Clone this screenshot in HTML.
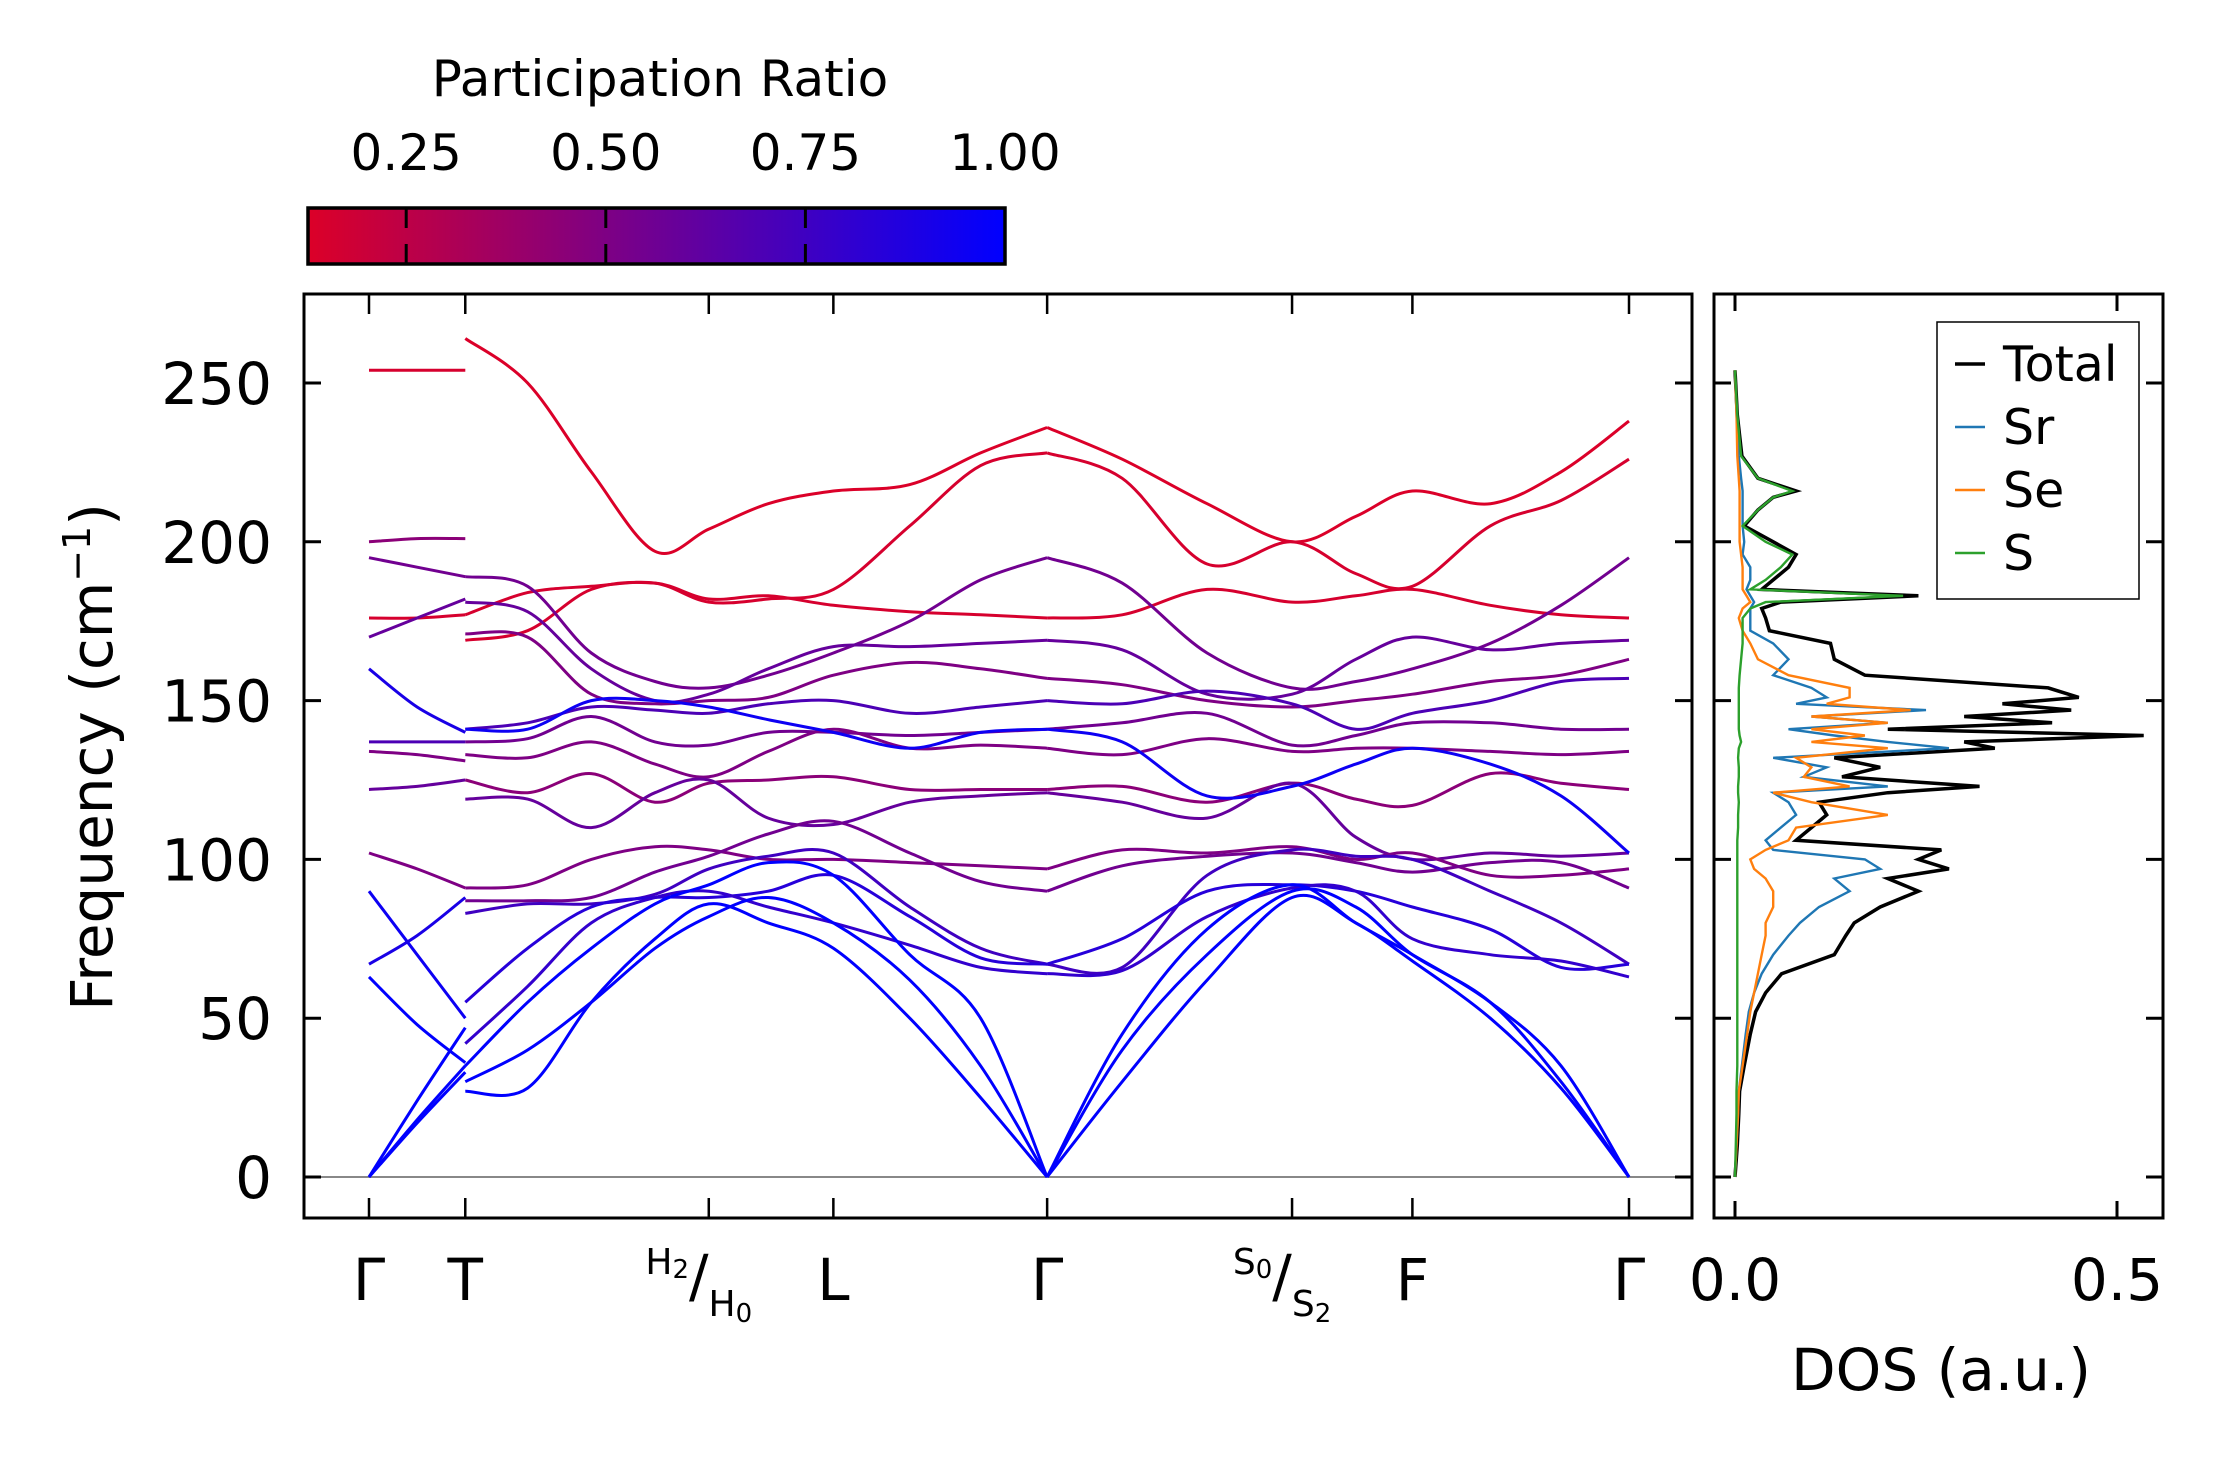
<!DOCTYPE html>
<html><head><meta charset="utf-8"><style>
html,body{margin:0;padding:0;background:#fff;}
svg text{font-family:"DejaVu Sans","Liberation Sans",sans-serif;fill:#000;}
</style></head><body>
<svg id="fig" width="2223" height="1455" viewBox="0 0 2223 1455" xmlns="http://www.w3.org/2000/svg">
<defs><linearGradient id="cbg" x1="0" x2="1" y1="0" y2="0"><stop offset="0" stop-color="rgb(220,0,40)"/><stop offset="1" stop-color="rgb(0,0,255)"/></linearGradient></defs>
<g id="colorbar">
<text x="660" y="96" font-size="50" text-anchor="middle">Participation Ratio</text>
<rect x="308" y="208" width="697" height="56" fill="url(#cbg)" stroke="#000" stroke-width="3.5"/>
</g>
<g id="main"></g>
<g id="dos"></g>
</svg>
<script>
// ---------- data ----------
const kPointNames = ["Γ","T","H2/H0","L","Γ","S0/S2","F","Γ"];
const kPointPos = [258,326,498,586,737,910,995,1148];
const yTicks = [0,50,100,150,200,250];
const cbTicks = [0.25,0.50,0.75,1.00];
const dosTicks = [0.0,0.5];
// segment Γ-T
const seg1K = [258,292,326];
const seg1Bands = [
 [254,254,254],[200,201,201],[195,192,189],[176,176,177],[170,176,182],[160,148,140],
 [137,137,137],[134,133,131],[122,123,125],[102,97,91],[90,70,50],[67,76,88],[63,48,36],
 [0,24,47],[0,17,33],[0,18,35]];
const seg1PR = [0.15,0.45,0.55,0.15,0.6,0.9,0.7,0.5,0.6,0.5,0.95,0.9,1,1,1,1];
// segment T ... Γ ... Γ
const pathK = [326,370,415,460,498,540,586,640,690,737,790,850,910,955,995,1050,1100,1148];
const bandA = [264,250,222,197,204,212,216,218,228,236,226,212,200,208,216,212,222,238];
const bandB = [177,184,186,187,181,182,185,205,224,228,220,193,200,190,186,205,213,226];
const bandC = [169,172,185,187,182,183,180,178,177,176,177,185,181,183,185,180,177,176];
const bandD = [189,186,165,156,154,158,165,175,188,195,187,165,154,156,160,168,180,195];
const bandE = [181,178,160,150,152,160,167,167,168,169,166,152,152,163,170,166,168,169];
const bandF = [171,170,152,149,150,151,158,162,160,157,155,150,148,150,152,156,158,163];
const bandG = [141,143,148,147,146,149,150,146,148,150,149,153,149,141,146,150,156,157];
const bandH = [137,138,145,137,136,140,140,139,140,141,143,146,136,139,143,143,141,141];
const bandI = [133,132,137,130,126,134,141,135,136,135,133,138,134,135,135,134,133,134];
const bandJ = [125,121,127,118,124,125,126,122,122,122,123,118,124,119,117,127,124,122];
const bandK = [119,119,110,121,125,113,111,118,120,121,118,113,124,107,100,102,101,102];
const bandL = [91,92,100,104,103,100,100,99,98,97,103,102,104,100,102,95,95,97];
const bandM = [87,87,88,96,101,108,112,102,93,90,98,101,102,99,96,99,99,91];
const bandN = [141,141,150,150,148,144,140,135,140,141,137,120,123,130,135,130,120,102];
const bandO = [83,86,86,89,97,101,102,85,72,67,66,95,103,101,100,90,80,67];
const bandP = [55,72,85,88,88,90,95,82,69,67,75,90,92,90,85,78,66,67];
const bandQ = [42,60,80,88,90,85,80,73,66,64,65,82,91,90,75,70,68,63];
const bandR = [35,55,72,86,92,99,95,70,50,0,45,78,92,80,70,55,35,0];
const bandS = [30,40,55,72,82,88,80,62,35,0,40,70,90,85,70,55,30,0];
const bandT = [27,28,55,75,86,80,72,50,25,0,30,62,88,80,68,50,28,0];
const pathBands = [bandA,bandB,bandC,bandD,bandE,bandF,bandG,bandH,bandI,bandJ,bandK,bandL,bandM,bandN,bandO,bandP,bandQ,bandR,bandS,bandT];
const pathPR = [0.13,0.15,0.15,0.55,0.6,0.5,0.7,0.55,0.5,0.45,0.6,0.5,0.55,0.95,0.75,0.85,0.8,1,1,1];
// DOS
const dosFreq = [0,10,20,27,35,45,52,58,64,70,76,80,85,90,94,97,100,103,106,110,114,118,121,123,126,129,132,135,137,139,141,143,145,147,149,151,154,158,163,168,172,176,179,181,183,185,188,192,196,200,205,210,214,216,220,227,240,254];
const dosTotal = [0,.003,.005,.006,.012,.02,.027,.04,.061,.13,.145,.156,.19,.24,.2,.28,.24,.27,.08,.1,.12,.11,.2,.32,.14,.19,.13,.34,.3,.535,.2,.415,.3,.44,.35,.45,.41,.17,.13,.125,.045,.04,.035,.06,.24,.035,.05,.07,.08,.05,.012,.03,.05,.08,.03,.009,.003,0];
const dosSr = [0,.002,.004,.005,.009,.014,.018,.025,.035,.05,.07,.085,.11,.15,.13,.19,.17,.05,.04,.06,.08,.07,.05,.2,.09,.12,.05,.28,.2,.13,.07,.2,.1,.25,.08,.12,.1,.05,.07,.05,.02,.02,.02,.025,.02,.015,.02,.02,.01,.012,.01,.01,.01,.01,.008,.005,.002,0];
const dosSe = [0,.002,.004,.005,.01,.016,.02,.025,.03,.035,.04,.04,.05,.05,.04,.025,.02,.04,.07,.08,.2,.1,.05,.15,.09,.1,.08,.2,.1,.17,.1,.2,.1,.23,.12,.15,.15,.07,.03,.02,.01,.005,.01,.02,.015,.01,.01,.01,.008,.006,.006,.006,.006,.006,.005,.003,.002,0];
const dosS = [0,.001,.002,.002,.003,.003,.003,.003,.003,.003,.003,.003,.003,.003,.003,.003,.003,.003,.003,.004,.004,.005,.004,.004,.005,.005,.004,.005,.008,.006,.005,.005,.005,.005,.005,.005,.005,.006,.008,.01,.01,.01,.02,.04,.22,.02,.04,.06,.075,.04,.01,.03,.05,.075,.03,.008,.003,0];
const dosNames = ["Total","Sr","Se","S"];
const dosColors = ["#000000","#1f77b4","#ff7f0e","#2ca02c"];

// ---------- axes ----------
const NS="http://www.w3.org/2000/svg";
const AX={l:304,r:1692,t:294,b:1218};
const DX={l:1714,r:2163};
function xk(d){return 369+(d-258)*(1629-369)/(1148-258);}
function yf(f){return 1177-f*3.176;}
function xd(v){return 1735+v*764;}
function xcb(v){return 308+(v-0.127)/(1-0.127)*697;}
function prColor(v){const t=Math.max(0,Math.min(1,(v-0.127)/(1-0.127)));return `rgb(${Math.round(220*(1-t))},0,${Math.round(40+215*t)})`;}
function mk(tag,attrs,parent){const e=document.createElementNS(NS,tag);for(const k in attrs)e.setAttribute(k,attrs[k]);parent.appendChild(e);return e;}
function smooth(pts){let d=`M${pts[0][0].toFixed(1)},${pts[0][1].toFixed(1)}`;
 for(let i=0;i<pts.length-1;i++){const p0=pts[Math.max(0,i-1)],p1=pts[i],p2=pts[i+1],p3=pts[Math.min(pts.length-1,i+2)];
  const c1=[p1[0]+(p2[0]-p0[0])/6,p1[1]+(p2[1]-p0[1])/6],c2=[p2[0]-(p3[0]-p1[0])/6,p2[1]-(p3[1]-p1[1])/6];
  d+=` C${c1[0].toFixed(1)},${c1[1].toFixed(1)} ${c2[0].toFixed(1)},${c2[1].toFixed(1)} ${p2[0].toFixed(1)},${p2[1].toFixed(1)}`;}
 return d;}

const cbar=document.getElementById('colorbar');
cbTicks.forEach(v=>{
 const x=xcb(v);
 if(v<1){const t1=mk('line',{x1:x,x2:x,y1:208,y2:228,stroke:'#000','stroke-width':3},cbar);
 
 
 const t2=mk('line',{x1:x,x2:x,y1:244,y2:264,stroke:'#000','stroke-width':3},cbar);
 
 }
 const tx=mk('text',{x:x,y:170,'font-size':50,'text-anchor':'middle'},cbar);tx.textContent=v.toFixed(2);
 
 
});

const g=document.getElementById('main');
const zl=mk('line',{x1:AX.l,x2:AX.r,y1:yf(0),y2:yf(0),stroke:'#888','stroke-width':2},g);


seg1Bands.forEach((b,i)=>{
 const p=mk('path',{d:smooth(b.map((f,j)=>[xk(seg1K[j]),yf(f)])),fill:'none',stroke:prColor(seg1PR[i]),'stroke-width':3},g);
 
 
});
const gi=pathK.indexOf(737);
pathBands.forEach((b,i)=>{
 const pts=b.map((f,j)=>[xk(pathK[j]),yf(f)]);
 [pts.slice(0,gi+1),pts.slice(gi)].forEach(s=>{
  const p=mk('path',{d:smooth(s),fill:'none',stroke:prColor(pathPR[i]),'stroke-width':3},g);
  
  
 });
});
const fr=mk('rect',{x:AX.l,y:AX.t,width:AX.r-AX.l,height:AX.b-AX.t,fill:'none',stroke:'#000','stroke-width':3},g);


yTicks.forEach(f=>{
 const y=yf(f);
 mk('line',{x1:AX.l,x2:AX.l+17,y1:y,y2:y,stroke:'#000','stroke-width':3},g);
 mk('line',{x1:AX.r-17,x2:AX.r,y1:y,y2:y,stroke:'#000','stroke-width':3},g);
 const t=mk('text',{x:272,y:y+21,'font-size':58,'text-anchor':'end'},g);t.textContent=f;
 
 
});
kPointPos.forEach((d,i)=>{
 const x=xk(d);
 mk('line',{x1:x,x2:x,y1:AX.b,y2:AX.b-20,stroke:'#000','stroke-width':2.5},g);
 mk('line',{x1:x,x2:x,y1:AX.t,y2:AX.t+20,stroke:'#000','stroke-width':2.5},g);
 const nm=kPointNames[i];
 let t;
 if(nm.includes('/')){
  const [a,b]=nm.split('/');
  t=mk('text',{x:x,y:1296,'font-size':58,'text-anchor':'middle'},g);
  t.innerHTML=`<tspan font-size="36" dy="-22" dx="-10">${a[0]}</tspan><tspan font-size="26" dy="4">${a[1]}</tspan><tspan dy="18">/</tspan><tspan font-size="36" dy="20">${b[0]}</tspan><tspan font-size="26" dy="6">${b[1]}</tspan>`;
 } else {
  t=mk('text',{x:x,y:1300,'font-size':58,'text-anchor':'middle'},g);t.textContent=nm;
 }
 
 
});
const yl=mk('text',{x:0,y:0,'font-size':58,'text-anchor':'middle',transform:`translate(112,757) rotate(-90)`},g);
yl.innerHTML='Frequency (cm<tspan font-size="38" dy="-22">−1</tspan><tspan dy="22">)</tspan>';



// DOS
const dg=document.getElementById('dos');
[dosTotal,dosSr,dosSe,dosS].forEach((arr,i)=>{
 const pts=arr.map((v,j)=>`${xd(v).toFixed(1)},${yf(dosFreq[j]).toFixed(1)}`).join(' ');
 const p=mk('polyline',{points:pts,fill:'none',stroke:dosColors[i],'stroke-width':i===0?3.5:2.4},dg);
 
 
});
const df=mk('rect',{x:DX.l,y:AX.t,width:DX.r-DX.l,height:AX.b-AX.t,fill:'none',stroke:'#000','stroke-width':3},dg);


yTicks.forEach(f=>{const y=yf(f);
 mk('line',{x1:DX.l,x2:DX.l+17,y1:y,y2:y,stroke:'#000','stroke-width':3},dg);
 mk('line',{x1:DX.r-17,x2:DX.r,y1:y,y2:y,stroke:'#000','stroke-width':3},dg);});
dosTicks.forEach(v=>{const x=xd(v);
 mk('line',{x1:x,x2:x,y1:AX.b,y2:AX.b-17,stroke:'#000','stroke-width':3},dg);
 mk('line',{x1:x,x2:x,y1:AX.t,y2:AX.t+17,stroke:'#000','stroke-width':3},dg);
 const t=mk('text',{x:x,y:1300,'font-size':58,'text-anchor':'middle'},dg);t.textContent=v.toFixed(1);
 
 });
const dl=mk('text',{x:1941,y:1390,'font-size':58,'text-anchor':'middle'},dg);dl.textContent='DOS (a.u.)';


const lg=mk('g',{},dg);


mk('rect',{x:1937,y:322,width:202,height:277,fill:'#fff',stroke:'#000','stroke-width':1.5},lg);
dosNames.forEach((n,i)=>{const y=364+i*63;
 const ln=mk('line',{x1:1955,x2:1985,y1:y,y2:y,stroke:dosColors[i],'stroke-width':i===0?3.5:2.4},lg);
 
 
 const t=mk('text',{x:2003,y:y+17,'font-size':49},lg);t.textContent=n;
 
 });
</script>
</body></html>
